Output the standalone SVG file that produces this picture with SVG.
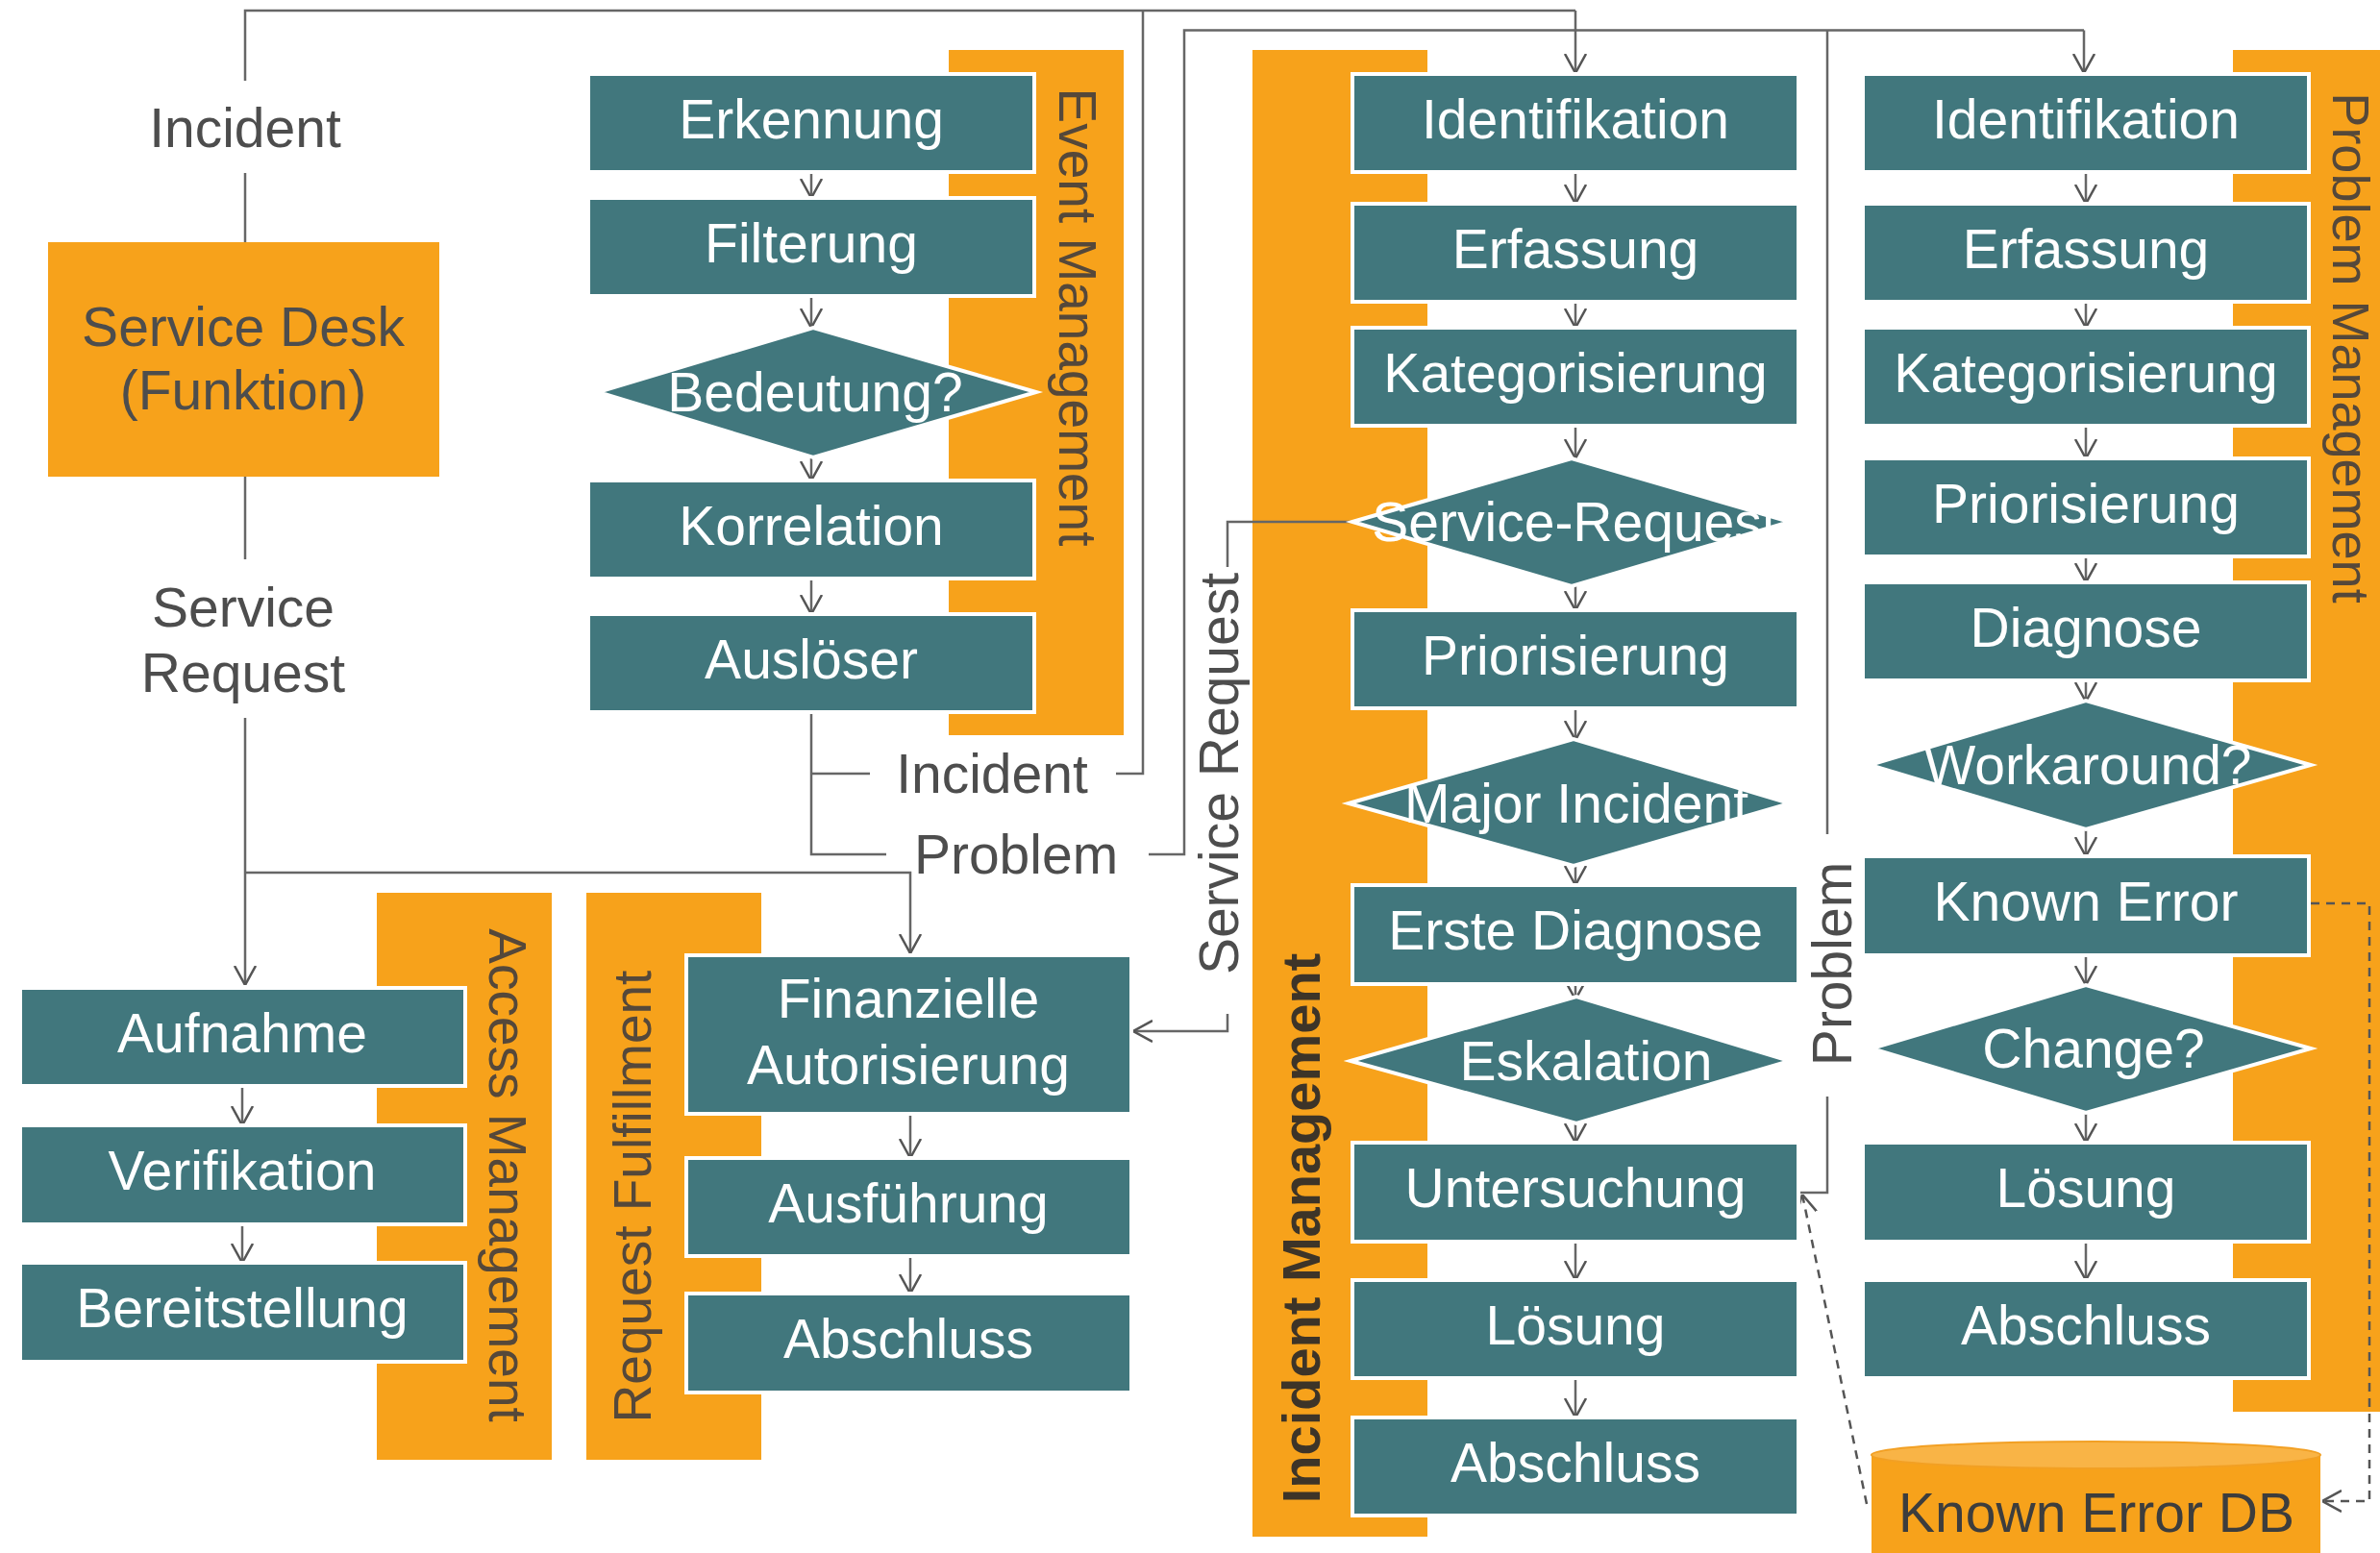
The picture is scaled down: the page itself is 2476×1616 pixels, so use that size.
<svg xmlns="http://www.w3.org/2000/svg" width="2476" height="1616" viewBox="0 0 2476 1616">
<style>
.bar{fill:#F7A21B}
.box{fill:#41777D;stroke:#fff;stroke-width:4}
.t{font-family:"Liberation Sans",Arial,sans-serif;font-size:57px;fill:#fff;text-anchor:middle;dominant-baseline:central}
.d{font-family:"Liberation Sans",Arial,sans-serif;font-size:57px;fill:#4d4d4d;text-anchor:middle;dominant-baseline:central}
.lane{font-family:"Liberation Sans",Arial,sans-serif;font-size:55px;fill:#55483a;text-anchor:middle;dominant-baseline:central}
.ln{fill:none;stroke:#666;stroke-width:2.5}
.ar{fill:none;stroke:#666;stroke-width:2.5;marker-end:url(#ah)}
.da{fill:none;stroke:#555;stroke-width:2.5;stroke-dasharray:9 7;marker-end:url(#ah)}
</style>
<defs>
<marker id="ah" viewBox="0 0 20 24" refX="20" refY="12" markerWidth="20" markerHeight="24" markerUnits="userSpaceOnUse" orient="auto">
<path d="M0,1 L20,12 L0,23" fill="none" stroke="#555" stroke-width="2.5"/>
</marker>
</defs>
<rect width="2476" height="1616" fill="#fff"/>

<!-- lane bars -->
<g id="lane-event"><rect class="bar" x="987" y="52" width="182" height="713"/><text class="lane" transform="translate(1121,330) rotate(90)">Event Management</text></g>
<g id="lane-incident"><rect class="bar" x="1303" y="52" width="182" height="1547"/><text class="lane" style="font-weight:bold;font-size:56px;fill:#3d3428" transform="translate(1353,1278) rotate(-90)">Incident Management</text></g>
<g id="lane-problem"><rect class="bar" x="2323" y="52" width="153" height="1417"/><text class="lane" style="font-size:54px" transform="translate(2446,362) rotate(90)">Problem Management</text></g>
<g id="lane-access"><rect class="bar" x="392" y="929" width="182" height="590"/><text class="lane" transform="translate(528,1223) rotate(90)">Access Management</text></g>
<g id="lane-request"><rect class="bar" x="610" y="929" width="182" height="590"/><text class="lane" transform="translate(658,1245) rotate(-90)">Request Fulfillment</text></g>

<g id="service-desk"><rect class="bar" x="50" y="252" width="407" height="244"/><text class="d" x="253" y="340">Service Desk</text><text class="d" x="253" y="406">(Funktion)</text></g>

<!-- connectors -->
<g id="connectors">
<path class="ln" d="M255,84 V11 H1639"/>
<path class="ar" d="M1639,11 V76"/>
<path class="ln" d="M255,180 V252"/>
<path class="ln" d="M255,496 V582"/>
<path class="ar" d="M255,747 V1025"/>
<path class="ar" d="M255,908 H947 V992"/>
<path class="ln" d="M844,741 V889 H922"/>
<path class="ln" d="M844,805 H905"/>
<path class="ln" d="M1161,805 H1189 V11"/>
<path class="ln" d="M1195,889 H1232 V31.5 H2168"/>
<path class="ar" d="M2168,31.5 V76"/>
<path class="ln" d="M1901,31.5 V868"/>
<path class="ln" d="M1901,1141 V1241 H1873"/>
<path class="ln" d="M1407,543 H1277 V590"/>
<path class="ar" d="M1277,1055 V1073 H1179"/>
<path class="da" d="M2404,940 H2465 V1562 H2416"/>
<path class="da" d="M1942,1565 L1875,1243"/>
<!-- event chain -->
<path class="ar" d="M844,179 V206"/>
<path class="ar" d="M844,308 V341"/>
<path class="ar" d="M844,476 V500"/>
<path class="ar" d="M844,602 V639"/>
<!-- incident chain -->
<path class="ar" d="M1639,179 V212"/>
<path class="ar" d="M1639,314 V341"/>
<path class="ar" d="M1639,443 V477"/>
<path class="ar" d="M1639,610 V635"/>
<path class="ar" d="M1639,737 V770"/>
<path class="ar" d="M1639,901 V921"/>
<path class="ar" d="M1639,1024 V1040"/>
<path class="ar" d="M1639,1165 V1189"/>
<path class="ar" d="M1639,1292 V1332"/>
<path class="ar" d="M1639,1434 V1475"/>
<!-- problem chain -->
<path class="ar" d="M2170,179 V212"/>
<path class="ar" d="M2170,314 V341"/>
<path class="ar" d="M2170,443 V477"/>
<path class="ar" d="M2170,579 V606"/>
<path class="ar" d="M2170,708 V730"/>
<path class="ar" d="M2170,863 V891"/>
<path class="ar" d="M2170,994 V1025"/>
<path class="ar" d="M2170,1158 V1189"/>
<path class="ar" d="M2170,1292 V1332"/>
<!-- access / request chain -->
<path class="ar" d="M252,1130 V1171"/>
<path class="ar" d="M252,1274 V1314"/>
<path class="ar" d="M947,1159 V1205"/>
<path class="ar" d="M947,1307 V1346"/>
</g>

<!-- labels -->
<g id="labels">
<text class="d" x="255" y="133">Incident</text>
<text class="d" x="253" y="632">Service</text>
<text class="d" x="253" y="700">Request</text>
<text class="d" x="1032" y="805">Incident</text>
<text class="d" x="1057" y="889">Problem</text>
<text class="d" transform="translate(1268,805) rotate(-90)">Service Request</text>
<text class="d" transform="translate(1906,1003) rotate(-90)">Problem</text>
</g>

<!-- event nodes -->
<g id="ev-erkennung"><rect class="box" x="612" y="77" width="464" height="102"/><text class="t" x="844" y="124">Erkennung</text></g>
<g id="ev-filterung"><rect class="box" x="612" y="206" width="464" height="102"/><text class="t" x="844" y="253">Filterung</text></g>
<g id="ev-bedeutung"><polygon class="box" points="622,408 846,341 1078,408 846,476"/><text class="t" x="848" y="408">Bedeutung?</text></g>
<g id="ev-korrelation"><rect class="box" x="612" y="500" width="464" height="102"/><text class="t" x="844" y="547">Korrelation</text></g>
<g id="ev-ausloeser"><rect class="box" x="612" y="639" width="464" height="102"/><text class="t" x="844" y="686">Auslöser</text></g>

<!-- incident nodes -->
<g id="in-identifikation"><rect class="box" x="1407" y="77" width="464" height="102"/><text class="t" x="1639" y="124">Identifikation</text></g>
<g id="in-erfassung"><rect class="box" x="1407" y="212" width="464" height="102"/><text class="t" x="1639" y="259">Erfassung</text></g>
<g id="in-kategorisierung"><rect class="box" x="1407" y="341" width="464" height="102"/><text class="t" x="1639" y="388">Kategorisierung</text></g>
<g id="in-servicerequest"><polygon class="box" points="1407,543 1635,477 1862,543 1635,610"/><text class="t" x="1638" y="543">Service-Request</text></g>
<g id="in-priorisierung"><rect class="box" x="1407" y="635" width="464" height="102"/><text class="t" x="1639" y="682">Priorisierung</text></g>
<g id="in-major"><polygon class="box" points="1403,836 1637,769 1862,836 1637,901"/><text class="t" x="1640" y="836">Major Incident</text></g>
<g id="in-erstediagnose"><rect class="box" x="1407" y="921" width="464" height="103"/><text class="t" x="1639" y="968">Erste Diagnose</text></g>
<g id="in-eskalation"><polygon class="box" points="1405,1104 1640,1037 1862,1104 1640,1169"/><text class="t" x="1650" y="1104">Eskalation</text></g>
<g id="in-untersuchung"><rect class="box" x="1407" y="1189" width="464" height="103"/><text class="t" x="1639" y="1236">Untersuchung</text></g>
<g id="in-loesung"><rect class="box" x="1407" y="1332" width="464" height="102"/><text class="t" x="1639" y="1379">Lösung</text></g>
<g id="in-abschluss"><rect class="box" x="1407" y="1475" width="464" height="102"/><text class="t" x="1639" y="1522">Abschluss</text></g>

<!-- problem nodes -->
<g id="pr-identifikation"><rect class="box" x="1938" y="77" width="464" height="102"/><text class="t" x="2170" y="124">Identifikation</text></g>
<g id="pr-erfassung"><rect class="box" x="1938" y="212" width="464" height="102"/><text class="t" x="2170" y="259">Erfassung</text></g>
<g id="pr-kategorisierung"><rect class="box" x="1938" y="341" width="464" height="102"/><text class="t" x="2170" y="388">Kategorisierung</text></g>
<g id="pr-priorisierung"><rect class="box" x="1938" y="477" width="464" height="102"/><text class="t" x="2170" y="524">Priorisierung</text></g>
<g id="pr-diagnose"><rect class="box" x="1938" y="606" width="464" height="102"/><text class="t" x="2170" y="653">Diagnose</text></g>
<g id="pr-workaround"><polygon class="box" points="1945,796 2170,729 2404,796 2170,863"/><text class="t" x="2172" y="796">Workaround?</text></g>
<g id="pr-knownerror"><rect class="box" x="1938" y="891" width="464" height="103"/><text class="t" x="2170" y="938">Known Error</text></g>
<g id="pr-change"><polygon class="box" points="1947,1091 2170,1025 2404,1091 2170,1158"/><text class="t" x="2178" y="1091">Change?</text></g>
<g id="pr-loesung"><rect class="box" x="1938" y="1189" width="464" height="103"/><text class="t" x="2170" y="1236">Lösung</text></g>
<g id="pr-abschluss"><rect class="box" x="1938" y="1332" width="464" height="102"/><text class="t" x="2170" y="1379">Abschluss</text></g>

<!-- access nodes -->
<g id="ac-aufnahme"><rect class="box" x="21" y="1028" width="463" height="102"/><text class="t" x="252" y="1075">Aufnahme</text></g>
<g id="ac-verifikation"><rect class="box" x="21" y="1171" width="463" height="103"/><text class="t" x="252" y="1218">Verifikation</text></g>
<g id="ac-bereitstellung"><rect class="box" x="21" y="1314" width="463" height="103"/><text class="t" x="252" y="1361">Bereitstellung</text></g>

<!-- request fulfillment nodes -->
<g id="rf-finanzielle"><rect class="box" x="714" y="994" width="463" height="165"/><text class="t" x="945" y="1039">Finanzielle</text><text class="t" x="945" y="1108">Autorisierung</text></g>
<g id="rf-ausfuehrung"><rect class="box" x="714" y="1205" width="463" height="102"/><text class="t" x="945" y="1252">Ausführung</text></g>
<g id="rf-abschluss"><rect class="box" x="714" y="1346" width="463" height="103"/><text class="t" x="945" y="1393">Abschluss</text></g>

<!-- known error db -->
<g id="known-error-db">
<path d="M1947,1514 V1616 H2414 V1514 Z" fill="#F7A21B"/>
<ellipse cx="2180.5" cy="1514" rx="233.5" ry="14" fill="#F9B446" stroke="#F2A024" stroke-width="2"/>
<text class="d" x="2181" y="1574" style="fill:#3d3d3d">Known Error DB</text>
</g>
</svg>
